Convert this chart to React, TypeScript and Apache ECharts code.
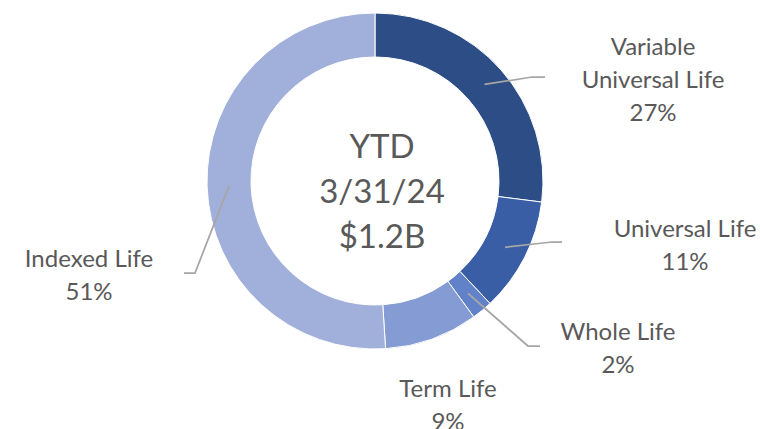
import React, { useEffect, useRef } from 'react';
import * as echarts from 'echarts';

const categories = ['Variable Universal Life', 'Universal Life', 'Whole Life', 'Term Life', 'Indexed Life'];
const shares = [27, 11, 2, 9, 51];
const centerLines = ['YTD', '3/31/24', '$1.2B'];
const colors = ['#2C4D86', '#3A5EA6', '#6182C8', '#859BD3', '#A1B0DA'];

const CX = 375;
const CY = 181;
const R_IN = 124;
const R_OUT = 168;
const FONT = 'Lato, "Open Sans", sans-serif';
const TEXT = '#595959';
const labelPos: number[][] = [[653, 78.5], [685, 243.5], [618, 347], [448, 404], [89, 274]];
const elbows: (number[][] | null)[] = [
  [[532, 77], [545, 77]],
  [[552, 242], [562, 242]],
  [[528, 346], [540, 346]],
  null,
  [[195, 273], [184, 273]],
];

export default function App() {
  const ref = useRef<HTMLDivElement>(null);
  useEffect(() => {
    if (!ref.current) return;
    const chart = echarts.init(ref.current, undefined, { renderer: 'svg' });
    const total = shares.reduce((a, b) => a + b, 0);
    const mids: number[] = [];
    let cum = 0;
    shares.forEach((v) => {
      mids.push(((cum + v / 2) / total) * Math.PI * 2);
      cum += v;
    });
    const rMid = (R_IN + R_OUT) / 2;
    const leaders: any[] = [];
    elbows.forEach((e, i) => {
      if (!e) return;
      const a = mids[i];
      leaders.push({
        type: 'polyline',
        z: 100,
        shape: {
          points: [[CX + rMid * Math.sin(a), CY - rMid * Math.cos(a)], e[0], e[1]],
        },
        style: { stroke: '#A6A6A6', lineWidth: 1.75, fill: null },
      });
    });
    chart.setOption({
      animation: false,
      backgroundColor: '#ffffff',
      graphic: [
        {
          type: 'text',
          x: 382,
          y: 190,
          style: {
            text: centerLines.join('\n'),
            fontSize: 33,
            lineHeight: 45,
            fontFamily: FONT,
            fill: TEXT,
            align: 'center',
            verticalAlign: 'middle',
          },
        },
        ...leaders,
      ],
      series: [
        {
          type: 'pie',
          center: [CX, CY],
          radius: [R_IN, R_OUT],
          startAngle: 90,
          clockwise: true,
          avoidLabelOverlap: false,
          itemStyle: { borderColor: '#ffffff', borderWidth: 1 },
          label: {
            show: true,
            position: 'outside',
            fontSize: 24,
            lineHeight: 33,
            fontFamily: FONT,
            color: TEXT,
            align: 'center',
            formatter: (p: any) =>
              p.name.replace('Variable ', 'Variable\n') + '\n' + Math.round(p.percent) + '%',
          },
          labelLine: { show: false },
          labelLayout: (params: any) => {
            const i = params.dataIndex;
            return {
              x: labelPos[i][0],
              y: labelPos[i][1],
              align: 'center',
              verticalAlign: 'middle',
            };
          },
          data: categories.map((name, i) => ({
            name,
            value: shares[i],
            itemStyle: { color: colors[i] },
          })),
        },
      ],
    });
    return () => chart.dispose();
  }, []);
  return (
    <div
      ref={ref}
      style={{ position: 'fixed', left: 0, top: 0, width: 760, height: 429 }}
    />
  );
}
